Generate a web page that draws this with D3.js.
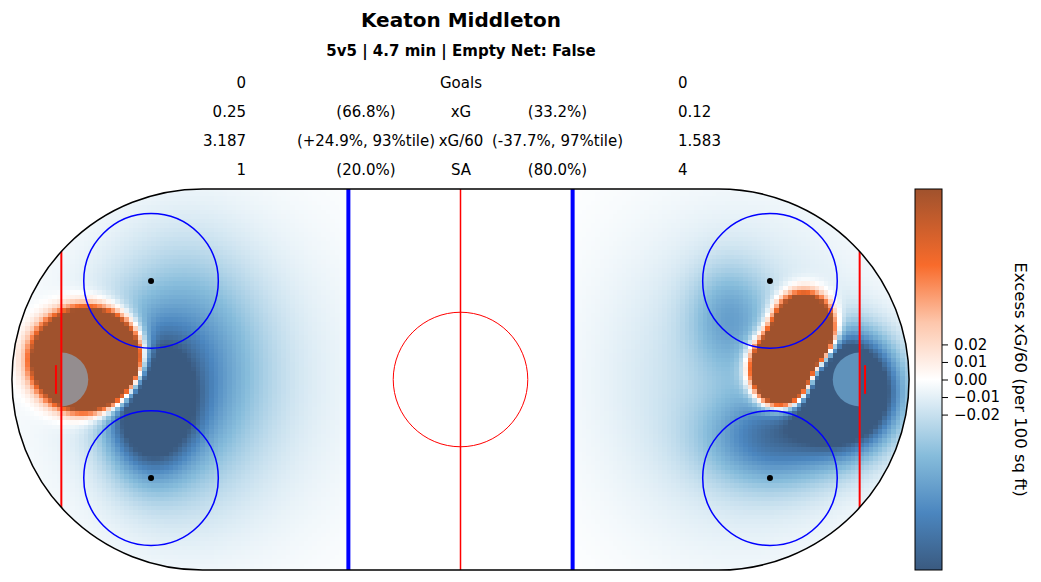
<!DOCTYPE html>
<html>
<head>
<meta charset="utf-8"/>
<script src="https://d3js.org/d3.v7.min.js"></script>
<style>
    body { margin: 0; background: #fff; }
    svg text { font-family: "DejaVu Sans", sans-serif; fill: #000; }
</style>
</head>
<body>
<svg width="1041" height="582"></svg>
<script>
    // textos del encabezado
    const player = "Keaton Middleton";
    const subtitle = "5v5 | 4.7 min | Empty Net: False";
    const statNames = ["Goals", "xG", "xG/60", "SA"];
    const forVals = ["0", "0.25", "3.187", "1"];
    const forPct = ["", "(66.8%)", "(+24.9%, 93%tile)", "(20.0%)"];
    const againstPct = ["", "(33.2%)", "(-37.7%, 97%tile)", "(80.0%)"];
    const againstVals = ["0", "0.12", "1.583", "4"];

    // focos del mapa de calor (pies; x -100..100, y -42.5..42.5), excess xG/60
    const spotX  = [-83,  -69,   -62,   -58,   76.5, 71.8, 85.5,  70,    60,    62];
    const spotY  = [4.5,  -6,    2,     0,     10.5, 2.5,  -2.5,  -13,   14,    0];
    const spotSx = [4.8,  6,     11,    22,    3.1,  3.2,  7,     10,    6,     20];
    const spotSy = [4.4,  9,     16,    25,    3.8,  3.8,  7.5,   7,     8,     24];
    const spotV  = [3.5,  -0.15, -0.06, -0.02, 1.5,  1.5,  -0.27, -0.07, -0.04, -0.025];

    // barra de color
    const vmax = 0.1086;
    const cbTicks = [0.02, 0.01, 0, -0.01, -0.02];
    const cmapStops = [0, 0.15, 0.3, 0.5, 0.65, 0.8, 1];
    const cmapColors = ["#3a5a80", "#4b86bf", "#86bcdb", "#ffffff", "#fdc6ab", "#f86b2b", "#a0522d"];

    const svg = d3.select("svg");

    // escalas de la pista
    const x = d3.scaleLinear().domain([-100, 100]).range([12, 909]);
    const y = d3.scaleLinear().domain([42.5, -42.5]).range([189, 570]);
    const color = d3.scaleLinear()
        .domain(cmapStops.map(s => -vmax + 2 * vmax * s))
        .range(cmapColors)
        .clamp(true);

    // valor del campo en un punto
    function field(px, py) {
        let v = 0;
        for (let k = 0; k < spotX.length; k++) {
            const dx = px - spotX[k], dy = py - spotY[k];
            v += spotV[k] * Math.exp(-(dx * dx / (2 * spotSx[k] * spotSx[k]) + dy * dy / (2 * spotSy[k] * spotSy[k])));
        }
        return v;
    }

    // forma de la pista
    const r = x(42.5) - x(0);
    const rink = d3.path();
    rink.moveTo(x(-57.5), y(42.5));
    rink.lineTo(x(57.5), y(42.5));
    rink.arc(x(57.5), y(0), r, -Math.PI / 2, Math.PI / 2);
    rink.lineTo(x(-57.5), y(-42.5));
    rink.arc(x(-57.5), y(0), r, Math.PI / 2, 3 * Math.PI / 2);
    rink.closePath();

    svg.append("clipPath").attr("id", "rinkClip")
        .append("path").attr("d", rink.toString());

    // celdas de 1 pie, solo zonas de ataque
    const cells = [];
    d3.range(-100, 100).forEach(i => {
        if (i + 0.5 > -25 && i + 0.5 < 25) return;
        d3.range(-43, 43).forEach(j => {
            cells.push({cx: i, cy: j, v: field(i + 0.5, j + 0.5)});
        });
    });

    svg.append("g")
        .attr("clip-path", "url(#rinkClip)")
        .selectAll("rect")
        .data(cells).enter()
        .append("rect")
        .attr("x", d => x(d.cx))
        .attr("y", d => y(d.cy + 1))
        .attr("width", x(1) - x(0) + 0.6)
        .attr("height", y(0) - y(1) + 0.6)
        .attr("fill", d => color(d.v))
        .attr("shape-rendering", "crispEdges");

    // crease
    [-1, 1].forEach(s => {
        const c = d3.path();
        c.moveTo(x(89 * s), y(6));
        c.arc(x(89 * s), y(0), x(6) - x(0), -Math.PI / 2, Math.PI / 2, s > 0);
        c.closePath();
        svg.append("path").attr("d", c.toString())
            .attr("fill", "lightskyblue").attr("fill-opacity", 0.48);
    });

    const lines = svg.append("g").attr("clip-path", "url(#rinkClip)");
    // lineas de gol
    [-89, 89].forEach(g => {
        lines.append("line")
            .attr("x1", x(g)).attr("x2", x(g)).attr("y1", y(42.5)).attr("y2", y(-42.5))
            .attr("stroke", "red").attr("stroke-width", 2);
    });
    // lineas azules
    [-25, 25].forEach(g => {
        lines.append("line")
            .attr("x1", x(g)).attr("x2", x(g)).attr("y1", y(42.5)).attr("y2", y(-42.5))
            .attr("stroke", "blue").attr("stroke-width", 4);
    });
    // linea central
    lines.append("line")
        .attr("x1", x(0)).attr("x2", x(0)).attr("y1", y(42.5)).attr("y2", y(-42.5))
        .attr("stroke", "red").attr("stroke-width", 1.5);

    // circulo central
    svg.append("circle")
        .attr("cx", x(0)).attr("cy", y(0)).attr("r", x(15) - x(0))
        .attr("fill", "none").attr("stroke", "red").attr("stroke-width", 1);

    // circulos de faceoff
    const dots = [[-69, 22], [-69, -22], [69, 22], [69, -22]];
    svg.selectAll("circle.fo")
        .data(dots).enter()
        .append("circle").attr("class", "fo")
        .attr("cx", d => x(d[0])).attr("cy", d => y(d[1])).attr("r", x(15) - x(0))
        .attr("fill", "none").attr("stroke", "blue").attr("stroke-width", 1.5);
    svg.selectAll("circle.dot")
        .data(dots).enter()
        .append("circle").attr("class", "dot")
        .attr("cx", d => x(d[0])).attr("cy", d => y(d[1])).attr("r", 3)
        .attr("fill", "black");

    // redes
    [-90.2, 90.2].forEach(g => {
        svg.append("line")
            .attr("x1", x(g)).attr("x2", x(g)).attr("y1", y(3.2)).attr("y2", y(-3.2))
            .attr("stroke", "red").attr("stroke-width", 2);
    });

    // borde
    svg.append("path").attr("d", rink.toString())
        .attr("fill", "none").attr("stroke", "black").attr("stroke-width", 1.5);

    // titulos
    svg.append("text").attr("x", 461).attr("y", 27)
        .attr("text-anchor", "middle").style("font-size", "20px").style("font-weight", "bold")
        .text(player);
    svg.append("text").attr("x", 461).attr("y", 56)
        .attr("text-anchor", "middle").style("font-size", "15px").style("font-weight", "bold")
        .text(subtitle);

    // tabla
    const rowY = [83, 112, 141, 170];
    const cols = [
        {vals: forVals, x: 246, anchor: "end"},
        {vals: forPct, x: 366, anchor: "middle"},
        {vals: statNames, x: 461, anchor: "middle"},
        {vals: againstPct, x: 557.5, anchor: "middle"},
        {vals: againstVals, x: 678, anchor: "start"}
    ];
    cols.forEach(c => {
        svg.append("g").selectAll("text")
            .data(c.vals).enter()
            .append("text")
            .attr("x", c.x)
            .attr("y", (d, i) => rowY[i])
            .attr("dy", "0.36em")
            .attr("text-anchor", c.anchor)
            .style("font-size", "15px")
            .text(d => d);
    });

    // barra de color
    const defs = svg.append("defs");
    const grad = defs.append("linearGradient").attr("id", "cbGrad")
        .attr("x1", 0).attr("y1", 1).attr("x2", 0).attr("y2", 0);
    grad.selectAll("stop")
        .data(cmapStops).enter()
        .append("stop")
        .attr("offset", d => d)
        .attr("stop-color", (d, i) => cmapColors[i]);

    const cbY = d3.scaleLinear().domain([-vmax, vmax]).range([570, 189]);
    svg.append("rect")
        .attr("x", 915).attr("y", 189).attr("width", 27).attr("height", 381)
        .attr("fill", "url(#cbGrad)").attr("stroke", "black").attr("stroke-width", 1);

    const cbAxis = d3.axisRight(cbY)
        .tickValues(cbTicks)
        .tickSize(6)
        .tickPadding(6)
        .tickFormat(d3.format(".2f"));
    const gAxis = svg.append("g")
        .attr("transform", "translate(942,0)")
        .call(cbAxis);
    gAxis.select(".domain").remove();
    gAxis.selectAll("text").style("font-size", "15px").style("font-family", "DejaVu Sans");

    svg.append("text")
        .attr("transform", "translate(1021,379.5) rotate(90)")
        .attr("text-anchor", "middle")
        .attr("dy", "0.36em")
        .style("font-size", "16.5px")
        .text("Excess xG/60 (per 100 sq ft)");
</script>
</body>
</html>
